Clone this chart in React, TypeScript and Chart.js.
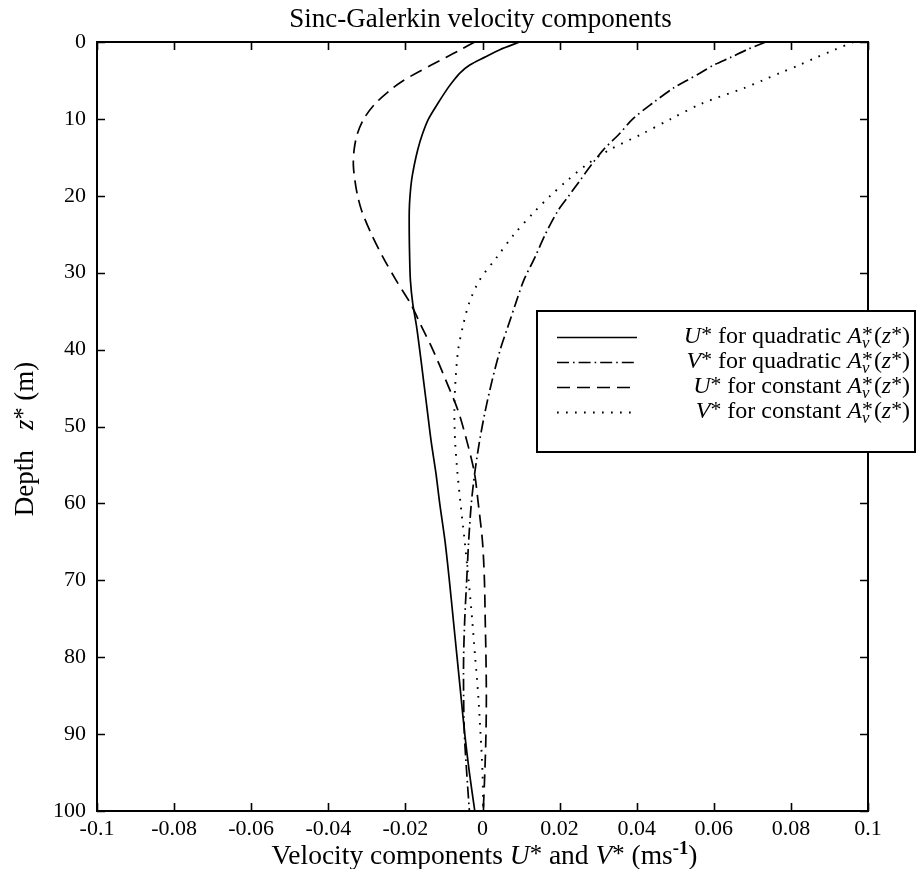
import React, { useEffect, useRef } from "react";
import { Chart, registerables } from "chart.js";

Chart.register(...registerables);

// ---- data (depth in m, velocities in m/s) ----
const depth = [0, 1, 2, 3, 4, 5, 6, 8, 10, 12, 14, 16, 18, 20, 22, 25, 28, 31, 34, 37, 40, 44, 48, 52, 56, 60, 65, 70, 75, 80, 85, 90, 95, 100];

const uQuadratic = [0.0096, 0.0045, 0.0005, -0.0033, -0.0058, -0.0075, -0.009, -0.0116, -0.014, -0.0156, -0.0168, -0.0177, -0.0184, -0.0188, -0.019, -0.019, -0.0189, -0.0187, -0.0181, -0.0171, -0.0163, -0.0153, -0.0143, -0.0133, -0.0121, -0.0111, -0.0097, -0.0086, -0.0076, -0.0066, -0.0056, -0.0046, -0.0034, -0.002];

const vQuadratic = [0.0735, 0.0686, 0.0644, 0.06, 0.0566, 0.053, 0.0495, 0.044, 0.039, 0.0354, 0.0314, 0.0282, 0.0253, 0.0224, 0.0195, 0.0163, 0.0136, 0.0107, 0.0086, 0.0066, 0.0046, 0.0025, 0.0007, -0.0008, -0.002, -0.0029, -0.0036, -0.0041, -0.0046, -0.0049, -0.0049, -0.0047, -0.0041, -0.0034];

const uConstant = [-0.002, -0.0057, -0.0095, -0.0133, -0.017, -0.0205, -0.0233, -0.0278, -0.0308, -0.0325, -0.0333, -0.0335, -0.0331, -0.0324, -0.0313, -0.0288, -0.0258, -0.0224, -0.0187, -0.0158, -0.0129, -0.0095, -0.0063, -0.004, -0.0021, -0.0011, 0.0, 0.0005, 0.0007, 0.0009, 0.001, 0.0009, 0.0006, 0.0002];

const vConstant = [0.0962, 0.0914, 0.0866, 0.0822, 0.0773, 0.0726, 0.0678, 0.0569, 0.0489, 0.0412, 0.033, 0.0269, 0.022, 0.0176, 0.0136, 0.0082, 0.0037, -0.0008, -0.0035, -0.0051, -0.0063, -0.007, -0.0073, -0.0071, -0.0065, -0.0057, -0.0046, -0.0036, -0.0027, -0.0019, -0.0011, -0.0005, 0.0, 0.0002];

const xTicks = [-0.1, -0.08, -0.06, -0.04, -0.02, 0, 0.02, 0.04, 0.06, 0.08, 0.1];
const yTicks = [0, 10, 20, 30, 40, 50, 60, 70, 80, 90, 100];

const seriesVar = ["U", "V", "U", "V"];
const seriesKind = ["quadratic", "quadratic", "constant", "constant"];

const chartTitle = "Sinc-Galerkin velocity components";

// ---- rich text helpers ----
const FONT = '"Liberation Serif", "Times New Roman", serif';
type Seg = [string, string]; // [text, style] style: r | i | sup | supb | supsub

function fontFor(style: string, size: number): string {
  if (style === "i") return `italic ${size}px ${FONT}`;
  if (style === "sup") return `${size * 0.9}px ${FONT}`;
  if (style === "supb") return `bold ${size * 0.68}px ${FONT}`;
  return `${size}px ${FONT}`;
}

function segWidth(ctx: CanvasRenderingContext2D, seg: Seg, size: number): number {
  const [t, st] = seg;
  if (st === "supsub") {
    const [a, b] = t.split("|");
    ctx.font = `${size * 0.9}px ${FONT}`;
    const wa = ctx.measureText(a).width;
    ctx.font = `italic ${size * 0.7}px ${FONT}`;
    const wb = ctx.measureText(b).width;
    return Math.max(wa, wb) + size * 0.05;
  }
  ctx.font = fontFor(st, size);
  return ctx.measureText(t).width;
}

function drawRich(ctx: CanvasRenderingContext2D, segs: Seg[], x: number, y: number, size: number, align: "left" | "right" | "center") {
  const widths = segs.map((s) => segWidth(ctx, s, size));
  const total = widths.reduce((a, b) => a + b, 0);
  let cx = align === "left" ? x : align === "right" ? x - total : x - total / 2;
  ctx.save();
  ctx.fillStyle = "#000";
  ctx.textAlign = "left";
  ctx.textBaseline = "alphabetic";
  segs.forEach((s, i) => {
    const [t, st] = s;
    if (st === "supsub") {
      const [a, b] = t.split("|");
      ctx.font = `${size * 0.9}px ${FONT}`;
      ctx.fillText(a, cx, y - size * 0.08);
      ctx.font = `italic ${size * 0.7}px ${FONT}`;
      ctx.fillText(b, cx, y + size * 0.22);
    } else if (st === "sup") {
      ctx.font = fontFor(st, size);
      ctx.fillText(t, cx, y - size * 0.08);
    } else if (st === "supb") {
      ctx.font = fontFor(st, size);
      ctx.fillText(t, cx, y - size * 0.38);
    } else {
      ctx.font = fontFor(st, size);
      ctx.fillText(t, cx, y);
    }
    cx += widths[i];
  });
  ctx.restore();
}

function legendSegs(v: string, kind: string): Seg[] {
  return [
    [v, "i"],
    ["*", "sup"],
    [` for ${kind} `, "r"],
    ["A", "i"],
    ["*|v", "supsub"],
    ["(", "r"],
    ["z", "i"],
    ["*", "sup"],
    [")", "r"],
  ];
}

const fmt = (v: number) => String(parseFloat(Number(v).toFixed(2)));

const dashes: number[][] = [[], [12, 4, 1.6, 4], [13, 7], [1.7, 7.3]];
const widthsLine = [1.7, 1.7, 1.7, 1.9];

const framePlugin = {
  id: "framePlugin",
  afterDraw(chart: any) {
    const ctx: CanvasRenderingContext2D = chart.ctx;
    const { left, right, top, bottom } = chart.chartArea;
    const xs = chart.scales.x;
    const ys = chart.scales.y;
    ctx.save();
    ctx.strokeStyle = "#000";
    ctx.lineWidth = 2;
    ctx.setLineDash([]);
    ctx.strokeRect(left, top, right - left, bottom - top);
    ctx.lineWidth = 1.6;
    const tl = 8;
    ctx.beginPath();
    xTicks.forEach((v) => {
      const px = Math.round(xs.getPixelForValue(v)) + 0.5;
      ctx.moveTo(px, bottom);
      ctx.lineTo(px, bottom - tl);
      ctx.moveTo(px, top);
      ctx.lineTo(px, top + tl);
    });
    yTicks.forEach((v) => {
      const py = Math.round(ys.getPixelForValue(v)) + 0.5;
      ctx.moveTo(left, py);
      ctx.lineTo(left + tl, py);
      ctx.moveTo(right, py);
      ctx.lineTo(right - tl, py);
    });
    ctx.stroke();

    // title
    ctx.fillStyle = "#000";
    ctx.font = `27px ${FONT}`;
    ctx.textAlign = "center";
    ctx.textBaseline = "alphabetic";
    ctx.fillText(chartTitle, (left + right) / 2 - 2, 27);

    // x axis title
    drawRich(
      ctx,
      [
        ["Velocity components ", "r"],
        ["U", "i"],
        ["*", "sup"],
        [" and ", "r"],
        ["V", "i"],
        ["*", "sup"],
        [" (ms", "r"],
        ["-1", "supb"],
        [")", "r"],
      ],
      (left + right) / 2 + 2,
      864,
      27.5,
      "center"
    );

    // y axis title (rotated)
    ctx.save();
    ctx.translate(33, 439);
    ctx.rotate(-Math.PI / 2);
    drawRich(
      ctx,
      [
        ["Depth   ", "r"],
        ["z", "i"],
        ["*", "sup"],
        [" (m)", "r"],
      ],
      0,
      0,
      27,
      "center"
    );
    ctx.restore();

    // legend box
    const bx = 537, by = 311, bw = 378, bh = 141;
    ctx.fillStyle = "#fff";
    ctx.fillRect(bx, by, bw, bh);
    ctx.strokeStyle = "#000";
    ctx.lineWidth = 2;
    ctx.setLineDash([]);
    ctx.strokeRect(bx, by, bw, bh);
    const rows = [337, 362, 387, 412];
    chart.data.datasets.forEach((ds: any, i: number) => {
      const ry = rows[i];
      ctx.save();
      ctx.strokeStyle = "#000";
      ctx.lineWidth = ds.borderWidth;
      ctx.setLineDash(ds.borderDash || []);
      ctx.beginPath();
      ctx.moveTo(557, ry + 0.5);
      ctx.lineTo(637, ry + 0.5);
      ctx.stroke();
      ctx.restore();
      drawRich(ctx, legendSegs(seriesVar[i], seriesKind[i]), 910, ry + 6, 24, "right");
    });
    ctx.restore();
  },
};

export default function App() {
  const ref = useRef<HTMLCanvasElement | null>(null);
  useEffect(() => {
    document.body.style.margin = "0";
    const canvas = ref.current;
    if (!canvas) return;
    const series = [uQuadratic, vQuadratic, uConstant, vConstant];
    const datasets = series.map((s, i) => ({
      label: `${seriesVar[i]}* for ${seriesKind[i]} A*v(z*)`,
      data: depth.map((d, j) => ({ x: s[j], y: d })),
      borderColor: "#000",
      backgroundColor: "#000",
      borderWidth: widthsLine[i],
      borderDash: dashes[i],
      pointRadius: 0,
      showLine: true,
      tension: 0.3,
      fill: false,
    }));
    const tickFont = { family: FONT, size: 22 };
    const chart = new Chart(canvas, {
      type: "scatter",
      data: { datasets },
      options: {
        responsive: false,
        animation: false,
        devicePixelRatio: 1,
        layout: { padding: { left: 0, right: 48, top: 42, bottom: 0 } },
        plugins: {
          legend: { display: false },
          tooltip: { enabled: false },
          title: { display: false },
        },
        scales: {
          x: {
            type: "linear",
            min: -0.1,
            max: 0.1,
            afterBuildTicks: (s: any) => {
              s.ticks = xTicks.map((v) => ({ value: v }));
            },
            afterFit: (s: any) => {
              s.height = 58;
            },
            ticks: {
              autoSkip: false,
              maxRotation: 0,
              padding: 5,
              color: "#000",
              font: tickFont,
              callback: (v: any) => fmt(v),
            },
            grid: { display: false, drawTicks: false },
            border: { display: false },
          },
          y: {
            type: "linear",
            reverse: true,
            min: 0,
            max: 100,
            afterBuildTicks: (s: any) => {
              s.ticks = yTicks.map((v) => ({ value: v }));
            },
            afterFit: (s: any) => {
              s.width = 97;
            },
            ticks: {
              autoSkip: false,
              padding: 11,
              color: "#000",
              font: tickFont,
              callback: (v: any) => fmt(v),
            },
            grid: { display: false, drawTicks: false },
            border: { display: false },
          },
        },
      } as any,
      plugins: [framePlugin],
    });
    return () => chart.destroy();
  }, []);
  return (
    <div style={{ width: 916, height: 869, background: "#fff" }}>
      <canvas ref={ref} width={916} height={869} style={{ display: "block" }} />
    </div>
  );
}
